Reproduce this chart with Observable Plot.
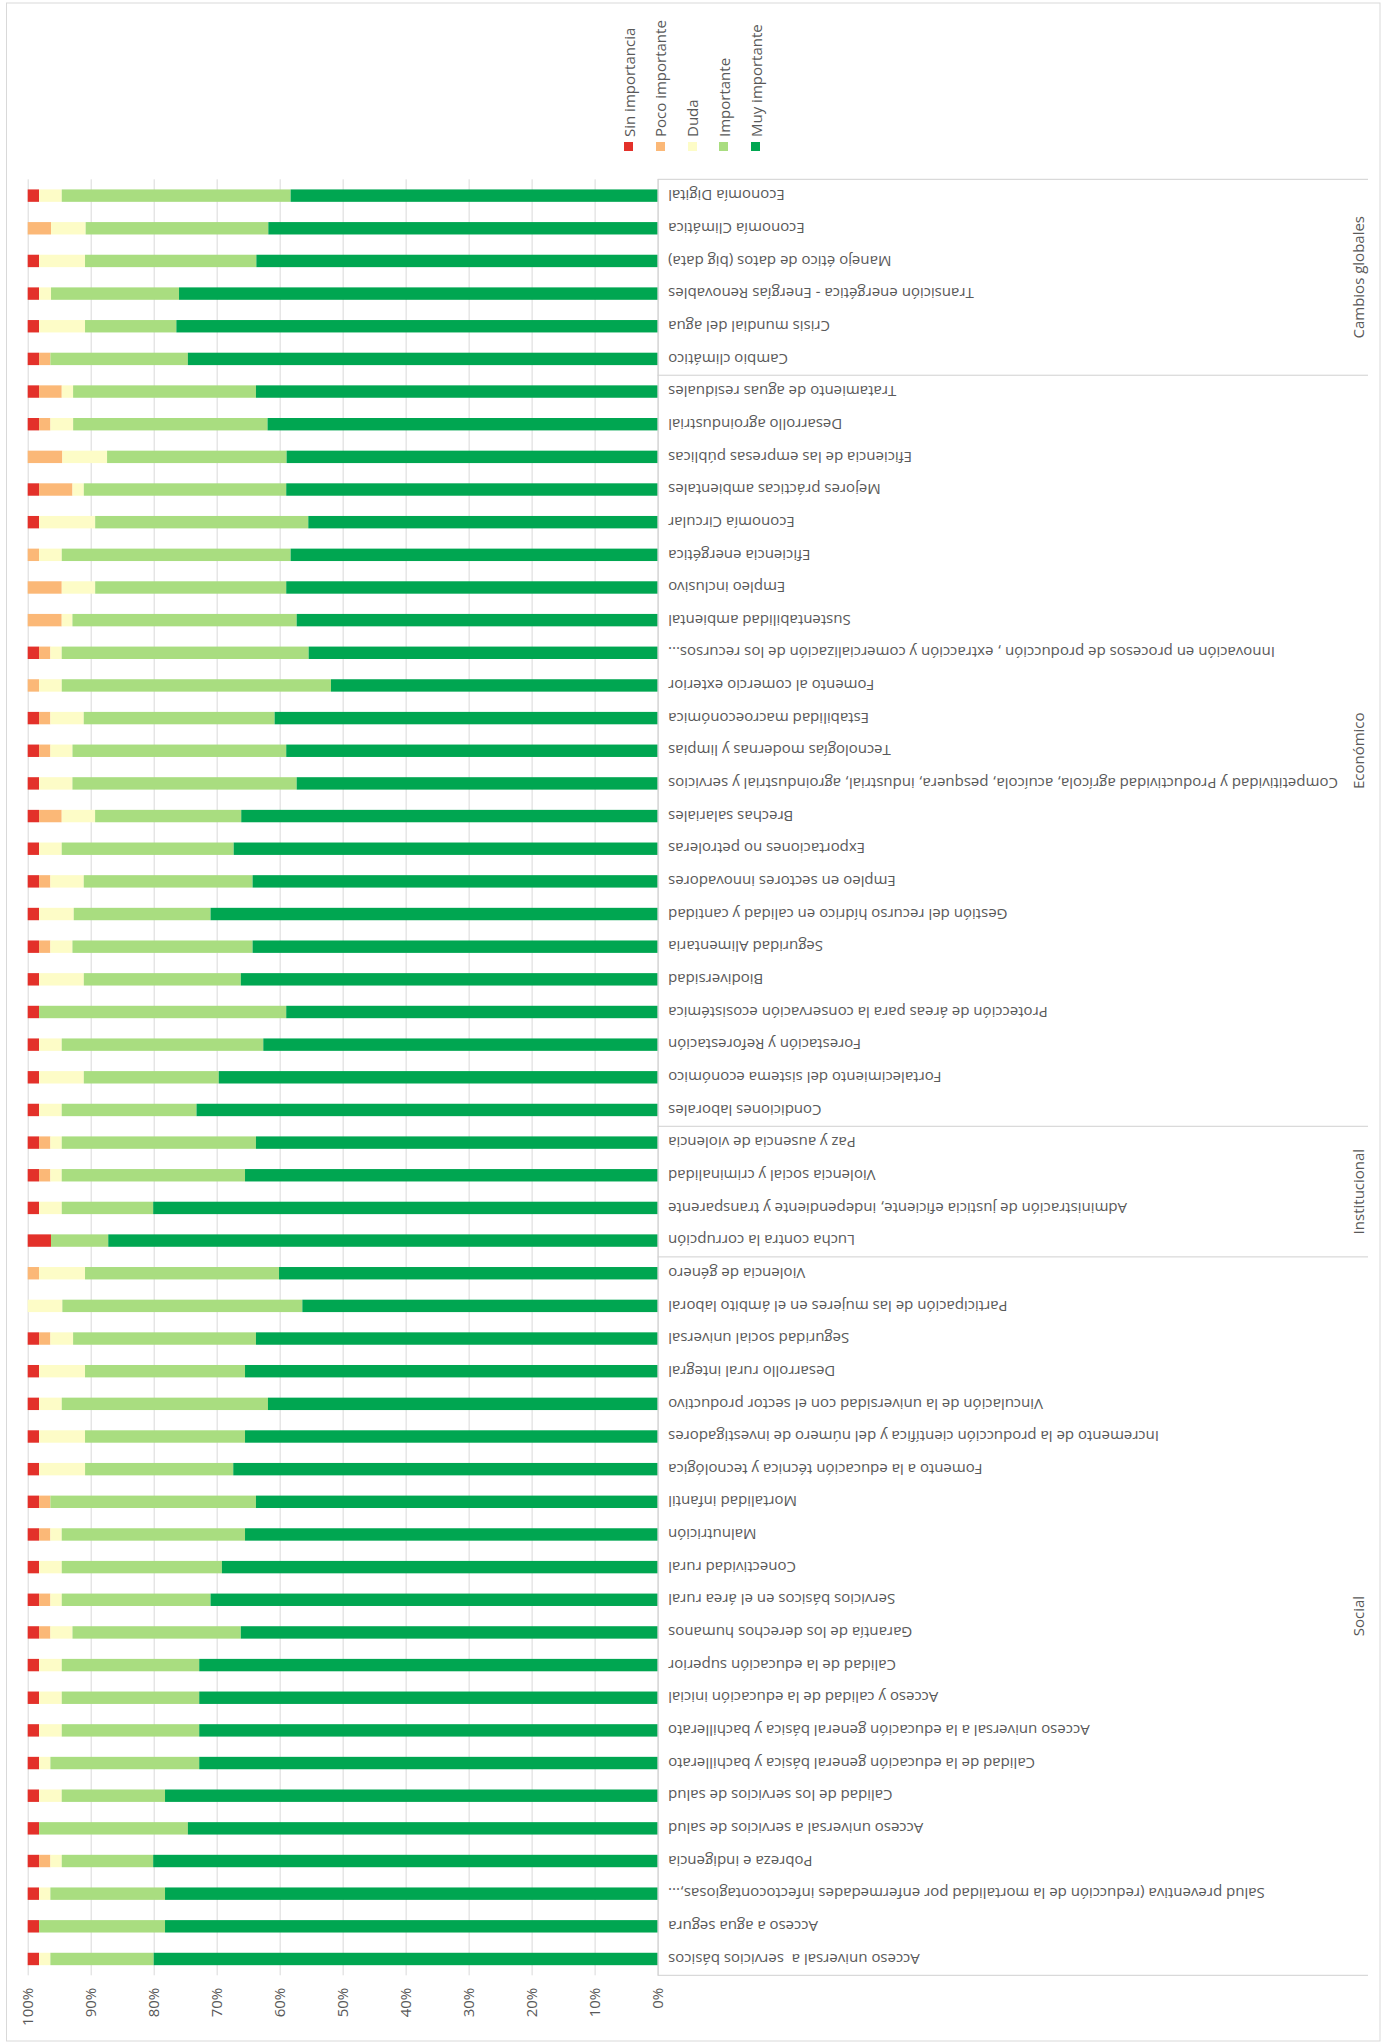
<!DOCTYPE html>
<html>
<head>
<meta charset="utf-8">
<script src="https://cdn.jsdelivr.net/npm/d3@7"></script>
<script src="https://cdn.jsdelivr.net/npm/@observablehq/plot@0.6"></script>
<style>
  html, body { margin: 0; padding: 0; background: #fff; overflow: hidden; width: 1389px; height: 2044px; }
  #frame { position: absolute; left: 0; top: 0; width: 2044px; height: 1389px;
           transform-origin: 0 0; transform: translate(0px, 2044px) rotate(-90deg); }
  #frame svg { position: absolute; left: 0; top: 0; }
  .legend { position: absolute; left: 1893px; font-family: 'Open Sans', sans-serif; font-size: 15px; color: #595959; }
  .legend .item { position: absolute; left: 0; height: 20px; display: flex; align-items: center; white-space: nowrap; }
  .legend .sw { width: 9px; height: 9px; margin-right: 5px; }
</style>
</head>
<body>
<div id="frame"></div>
<script>
// Categories in the chart's own order (Social first ... Cambios globales last)
const categories = [
  "Acceso universal a  servicios básicos",
  "Acceso a agua segura",
  "Salud preventiva (reducción de la mortalidad por enfermedades infectocontagiosas,...",
  "Pobreza e indigencia",
  "Acceso universal a servicios de salud",
  "Calidad de los servicios de salud",
  "Calidad de la educación general básica y bachillerato",
  "Acceso universal a la educación general básica y bachillerato",
  "Acceso y calidad de la educación inicial",
  "Calidad de la educación superior",
  "Garantía de los derechos humanos",
  "Servicios básicos en el área rural",
  "Conectividad rural",
  "Malnutrición",
  "Mortalidad infantil",
  "Fomento a la educación técnica y tecnológica",
  "Incremento de la producción científica y del número de investigadores",
  "Vinculación de la universidad con el sector productivo",
  "Desarrollo rural integral",
  "Seguridad social universal",
  "Participación de las mujeres en el ámbito laboral",
  "Violencia de género",
  "Lucha contra la corrupción",
  "Administración de justicia eficiente, independiente y transparente",
  "Violencia social y criminalidad",
  "Paz y ausencia de violencia",
  "Condiciones laborales",
  "Fortalecimiento del sistema económico",
  "Forestación y Reforestación",
  "Protección de áreas para la conservación ecosistémica",
  "Biodiversidad",
  "Seguridad Alimentaria",
  "Gestión del recurso hídrico en calidad y cantidad",
  "Empleo en sectores innovadores",
  "Exportaciones no petroleras",
  "Brechas salariales",
  "Competitividad y Productividad agrícola, acuícola, pesquera, industrial, agroindustrial y servicios",
  "Tecnologías modernas y limpias",
  "Estabilidad macroeconómica",
  "Fomento al comercio exterior",
  "Innovación en procesos de producción , extracción y comercialización de los recursos...",
  "Sustentabilidad ambiental",
  "Empleo inclusivo",
  "Eficiencia energética",
  "Economía Circular",
  "Mejores prácticas ambientales",
  "Eficiencia de las empresas públicas",
  "Desarrollo agroindustrial",
  "Tratamiento de aguas residuales",
  "Cambio climático",
  "Crisis mundial del agua",
  "Transición energética - Energías Renovables",
  "Manejo ético de datos (big data)",
  "Economía Climática",
  "Economía Digital"
];

const groupNames = ["Social", "Institucional", "Económico", "Cambios globales"];
const groupSizes = [22, 4, 23, 6];

const levels = ["Sin importancia", "Poco importante", "Duda", "Importante", "Muy importante"];
const levelColors = ["#e3312a", "#fbb877", "#fdfcc7", "#a9dd80", "#00a651"];

// Percentages per category (same order as categories)
const sinImportancia = [
  1.8, 1.8, 1.8, 1.8, 1.8, 1.8, 1.8, 1.8, 1.8, 1.8,
  1.8, 1.8, 1.8, 1.8, 1.8, 1.8, 1.8, 1.8, 1.8, 1.8,
  0, 0, 3.7, 1.8, 1.8, 1.8, 1.8, 1.8, 1.8, 1.8,
  1.8, 1.8, 1.8, 1.8, 1.8, 1.8, 1.8, 1.8, 1.8, 0,
  1.8, 0, 0, 0, 1.8, 1.8, 0, 1.8, 1.8, 1.8,
  1.8, 1.8, 1.8, 0, 1.8
];
const pocoImportante = [
  0, 0, 0, 1.8, 0, 0, 0, 0, 0, 0,
  1.8, 1.8, 0, 1.8, 1.8, 0, 0, 0, 0, 1.8,
  0, 1.8, 0, 0, 1.8, 1.8, 0, 0, 0, 0,
  0, 1.8, 0, 1.8, 0, 3.6, 0, 1.8, 1.8, 1.8,
  1.8, 5.4, 5.4, 1.8, 0, 5.3, 5.5, 1.8, 3.6, 1.8,
  0, 0, 0, 3.7, 0
];
const duda = [
  1.8, 0, 1.8, 1.8, 0, 3.6, 1.8, 3.6, 3.6, 3.6,
  3.5, 1.8, 3.6, 1.8, 0, 7.3, 7.3, 3.6, 7.3, 3.6,
  5.5, 7.3, 0, 3.6, 1.8, 1.8, 3.6, 7.1, 3.6, 0,
  7.1, 3.5, 5.5, 5.3, 3.6, 5.3, 5.3, 3.5, 5.3, 3.6,
  1.8, 1.7, 5.3, 3.6, 8.9, 1.8, 7.1, 3.6, 1.8, 0,
  7.3, 1.9, 7.3, 5.5, 3.6
];
const importante = [
  16.4, 20.0, 18.2, 14.5, 23.6, 16.4, 23.6, 21.8, 21.8, 21.8,
  26.7, 23.6, 25.4, 29.1, 32.6, 23.5, 25.4, 32.7, 25.4, 29.0,
  38.1, 30.8, 9.1, 14.5, 29.1, 30.8, 21.4, 21.4, 32.0, 39.2,
  24.9, 28.6, 21.7, 26.8, 27.3, 23.2, 35.6, 33.9, 30.3, 42.7,
  39.2, 35.6, 30.3, 36.3, 33.8, 32.1, 28.5, 30.8, 29.0, 21.8,
  14.5, 20.3, 27.2, 29.0, 36.3
];
const muyImportante = [
  80.0, 78.2, 78.2, 80.0, 74.5, 78.2, 72.7, 72.7, 72.7, 72.7,
  66.1, 70.9, 69.1, 65.5, 63.7, 67.3, 65.5, 61.8, 65.5, 63.7,
  56.4, 60.1, 87.3, 80.0, 65.5, 63.7, 73.2, 69.6, 62.6, 58.9,
  66.1, 64.3, 70.9, 64.3, 67.3, 66.1, 57.3, 58.9, 60.8, 51.8,
  55.4, 57.3, 58.9, 58.2, 55.4, 58.9, 58.9, 61.8, 63.7, 74.5,
  76.4, 75.9, 63.7, 61.8, 58.2
];

const seriesByLevel = {
  "Sin importancia": sinImportancia,
  "Poco importante": pocoImportante,
  "Duda": duda,
  "Importante": importante,
  "Muy importante": muyImportante
};
const stackOrder = ["Muy importante", "Importante", "Duda", "Poco importante", "Sin importancia"];

const rows = [];
categories.forEach((c, i) => {
  for (const lv of levels) rows.push({category: c, level: lv, value: seriesByLevel[lv][i]});
});

const plot = Plot.plot({
  width: 2044,
  height: 1389,
  marginLeft: 68.7,
  marginRight: 179.3,
  marginTop: 27.7,
  marginBottom: 731.4,
  style: {fontFamily: "'Open Sans', sans-serif", fontSize: "15px", color: "#595959", background: "transparent", overflow: "visible"},
  x: {type: "band", domain: categories, paddingInner: 0.62, paddingOuter: 0.31},
  y: {domain: [0, 1]},
  color: {domain: levels, range: levelColors},
  marks: [
    Plot.gridY({ticks: 10, stroke: "#d9d9d9", strokeOpacity: 1}),
    Plot.barY(rows, Plot.stackY({x: "category", y: "value", fill: "level", order: stackOrder, offset: "normalize"})),
    Plot.ruleY([0], {stroke: "#d0d0d0"}),
    Plot.axisY({ticks: 10, tickSize: 0, tickPadding: 13, tickFormat: d3.format(".0%"), fontSize: 15, color: "#595959", label: null}),
    Plot.axisX({tickSize: 0, tickPadding: 10, tickRotate: -90, fontSize: 15, color: "#595959", label: null})
  ]
});

// Multi-level category axis: group dividers and group names
const xs = plot.scale("x");
const ys = plot.scale("y");
const bw = xs.bandwidth, step = xs.step;
const center = c => xs.apply(c) + bw / 2;
const axisY0 = ys.apply(0);
const labelAreaBottom = 1368;
const groupLabelY = 1358;
const svg = d3.select(plot);
const gg = svg.append("g").attr("class", "groups");
let start = 0;
groupNames.forEach((name, gi) => {
  const first = categories[start];
  const last = categories[start + groupSizes[gi] - 1];
  const x0 = center(first) - step / 2;
  gg.append("line").attr("x1", x0).attr("x2", x0).attr("y1", axisY0).attr("y2", labelAreaBottom)
    .attr("stroke", "#d0d0d0");
  if (gi === groupNames.length - 1) {
    const x1 = center(last) + step / 2;
    gg.append("line").attr("x1", x1).attr("x2", x1).attr("y1", axisY0).attr("y2", labelAreaBottom)
      .attr("stroke", "#d0d0d0");
  }
  gg.append("text").attr("x", (center(first) + center(last)) / 2).attr("y", groupLabelY)
    .attr("text-anchor", "middle").attr("dominant-baseline", "central")
    .attr("fill", "#595959").attr("font-size", 15).text(name);
  start += groupSizes[gi];
});
// chart area border
svg.append("rect").attr("x", 3).attr("y", 6.5).attr("width", 2038).attr("height", 1373.5)
  .attr("fill", "none").attr("stroke", "#d9d9d9");

const frame = document.getElementById("frame");
frame.appendChild(plot);

// Legend (right side in the chart's own frame)
const legend = document.createElement("div");
legend.className = "legend";
levels.forEach((lv, i) => {
  const item = document.createElement("div");
  item.className = "item";
  item.style.top = (618.5 + i * 31.75) + "px";
  const sw = document.createElement("span");
  sw.className = "sw";
  sw.style.background = levelColors[i];
  const tx = document.createElement("span");
  tx.textContent = lv;
  item.appendChild(sw);
  item.appendChild(tx);
  legend.appendChild(item);
});
frame.appendChild(legend);
</script>
</body>
</html>
